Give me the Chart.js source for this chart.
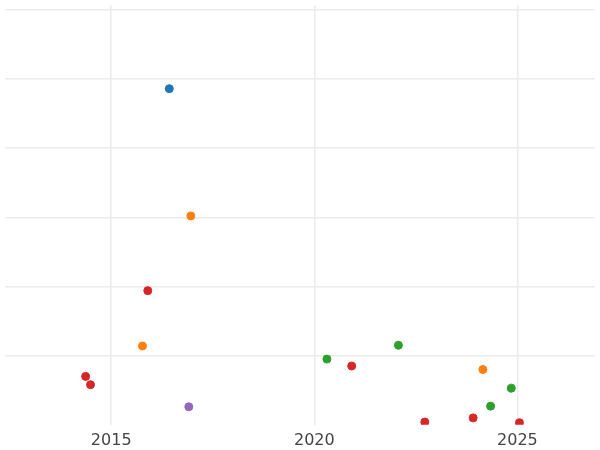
<!DOCTYPE html>
<html>
<head>
<meta charset="utf-8">
<script src="https://cdn.jsdelivr.net/npm/chart.js@4/dist/chart.umd.min.js"></script>
<style>
  html, body { margin: 0; padding: 0; background: #fff; }
  #wrap { width: 600px; height: 450px; }
</style>
</head>
<body>
<div id="wrap"><canvas id="c"></canvas></div>
<script>
// points, grouped by colour
const blueX = [2016.43];
const blueY = [4.86];
const orangeX = [2016.96, 2015.77, 2024.15];
const orangeY = [3.02, 1.14, 0.80];
const greenX = [2020.31, 2022.07, 2024.85, 2024.34];
const greenY = [0.95, 1.15, 0.53, 0.27];
const redX = [2015.90, 2020.92, 2014.37, 2014.49, 2022.72, 2023.91, 2025.05];
const redY = [1.94, 0.85, 0.70, 0.58, 0.04, 0.10, 0.03];
const purpleX = [2016.91];
const purpleY = [0.26];
const xTicks = [2015, 2020, 2025];

function pts(xs, ys) {
    return xs.map((x, i) => ({ x: x, y: ys[i] }));
}

function series(xs, ys, color) {
    return {
        data: pts(xs, ys),
        backgroundColor: color,
        borderColor: color,
        pointRadius: 4,
        pointHoverRadius: 4
    };
}

new Chart(document.getElementById('c'), {
    type: 'scatter',
    data: {
        datasets: [
            series(blueX, blueY, '#1f77b4'),
            series(orangeX, orangeY, '#ff7f0e'),
            series(greenX, greenY, '#2ca02c'),
            series(redX, redY, '#d62728'),
            series(purpleX, purpleY, '#9467bd')
        ]
    },
    options: {
        responsive: true,
        maintainAspectRatio: false,
        animation: false,
        layout: { padding: { top: -5, left: -5, right: -5, bottom: -6 } },
        plugins: { legend: { display: false }, tooltip: { enabled: false } },
        scales: {
            x: {
                min: 2012.385,
                max: 2026.91,
                afterBuildTicks: axis => { axis.ticks = xTicks.map(v => ({ value: v })); },
                grid: { color: '#ebebeb', lineWidth: 1.5, drawTicks: false },
                border: { display: false },
                ticks: {
                    color: '#444',
                    font: { family: 'DejaVu Sans', size: 16 },
                    padding: 6,
                    callback: v => String(v)
                }
            },
            y: {
                min: 0,
                max: 6.07,
                afterBuildTicks: axis => { axis.ticks = [1, 2, 3, 4, 5, 6].map(v => ({ value: v })); },
                grid: { color: '#ebebeb', lineWidth: 1.5, drawTicks: false },
                border: { display: false },
                ticks: { display: false }
            }
        }
    }
});
</script>
</body>
</html>
